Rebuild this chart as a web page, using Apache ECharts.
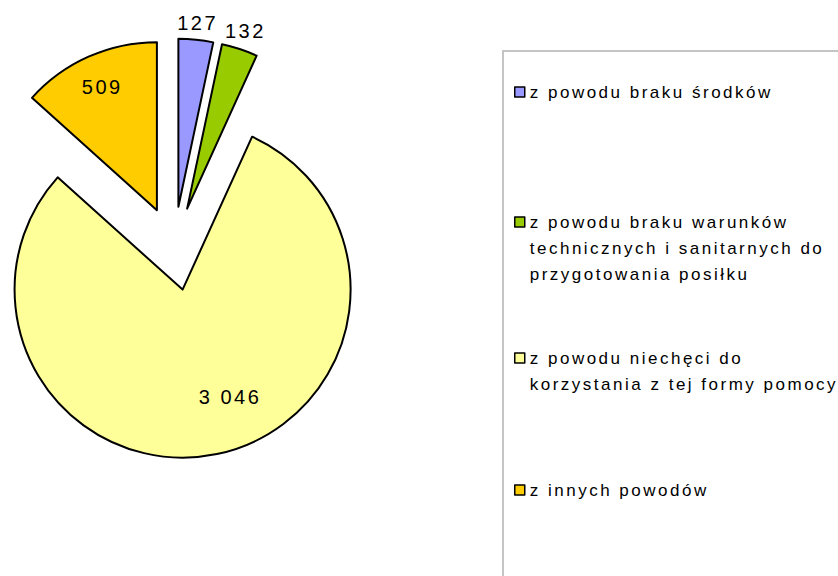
<!DOCTYPE html>
<html>
<head>
    <meta charset="utf-8">
    <title>Powody</title>
    <script src="https://cdn.jsdelivr.net/npm/echarts@6/dist/echarts.min.js"></script>
    <style>
        body { margin: 0; background: #fff; }
        /* Excel-style loose letter spacing */
        #main text { letter-spacing: 2.5px; }
    </style>
</head>
<body>
<div id="main" style="width: 838px; height: 576px;"></div>

<script type="text/javascript">
    // dane
    var categories = [
        'z powodu braku środków',
        'z powodu braku warunków\ntechnicznych i sanitarnych do\nprzygotowania posiłku',
        'z powodu niechęci do\nkorzystania z tej formy pomocy',
        'z innych powodów'
    ];
    var values = [127, 132, 3046, 509];
    var colors = ['#9999ff', '#99cc00', '#ffff99', '#ffcc00'];

    // wygląd
    var pieCenter = [174, 248.5];
    var pieRadius = 168;
    var explode = 42;
    var labelRadius = [1.1, 1.11, 0.7, 0.8];   // część promienia
    var labelTurn = [0, 0, -12, 0];            // przesunięcie kąta etykiety (stopnie)
    var legendIconY = [92, 222, 358, 490];
    var lineH = 26;
    var font = 'Liberation Sans, Arial, sans-serif';

    var total = values.reduce(function (a, b) { return a + b; }, 0);

    function fmt(v) {
        return String(v).replace(/\B(?=(\d{3})+(?!\d))/g, ' ');
    }

    function midAngle(i) {
        var cum = 0;
        for (var k = 0; k < i; k++) cum += values[k];
        return (cum + values[i] / 2) / total * 360;
    }

    // etykiety wartości - liczone z danych (wycinek wysunięty o explode)
    var valueLabels = values.map(function (v, i) {
        var a = midAngle(i) * Math.PI / 180;
        var b = (midAngle(i) + labelTurn[i]) * Math.PI / 180;
        var rr = labelRadius[i] * pieRadius;
        return {
            type: 'text',
            silent: true,
            z: 100,
            x: pieCenter[0] + explode * Math.sin(a) + rr * Math.sin(b),
            y: pieCenter[1] - explode * Math.cos(a) - rr * Math.cos(b),
            style: {
                text: fmt(v),
                fontFamily: font,
                fontSize: 20,
                fill: '#000',
                align: 'center',
                verticalAlign: 'middle'
            }
        };
    });

    var legends = categories.map(function (name, i) {
        var n = name.split('\n').length;
        var pad = new Array(n).join('\n');   // puste linie, żeby znacznik stał przy 1. linii
        return {
            orient: 'vertical',
            left: 514,
            top: legendIconY[i] - (2 * n - 1) * lineH / 2,
            padding: 0,
            itemWidth: 10,
            itemHeight: 10,
            icon: 'rect',
            selectedMode: false,
            data: [name],
            formatter: function (s) { return pad + s; },
            itemStyle: { borderColor: '#000', borderWidth: 1.5 },
            textStyle: {
                fontFamily: font,
                fontSize: 17,
                color: '#000',
                lineHeight: lineH
            }
        };
    });

    var myChart = echarts.init(document.getElementById('main'), null, { renderer: 'svg' });

    myChart.setOption({
        animation: false,
        color: colors,
        legend: legends,
        graphic: [{
            type: 'rect',
            shape: { x: 503, y: 51, width: 400, height: 600 },
            style: { fill: 'none', stroke: '#c4c4c4', lineWidth: 2 },
            silent: true
        }].concat(valueLabels),
        series: [{
            name: 'powody',
            type: 'pie',
            center: pieCenter,
            radius: pieRadius,
            startAngle: 90,
            clockwise: true,
            selectedMode: 'multiple',
            selectedOffset: explode,
            emphasis: { disabled: true },
            itemStyle: { borderColor: '#000', borderWidth: 2 },
            label: { show: false },
            labelLine: { show: false },
            data: categories.map(function (c, i) {
                return { name: c, value: values[i], selected: true };
            })
        }]
    });
</script>
</body>
</html>
